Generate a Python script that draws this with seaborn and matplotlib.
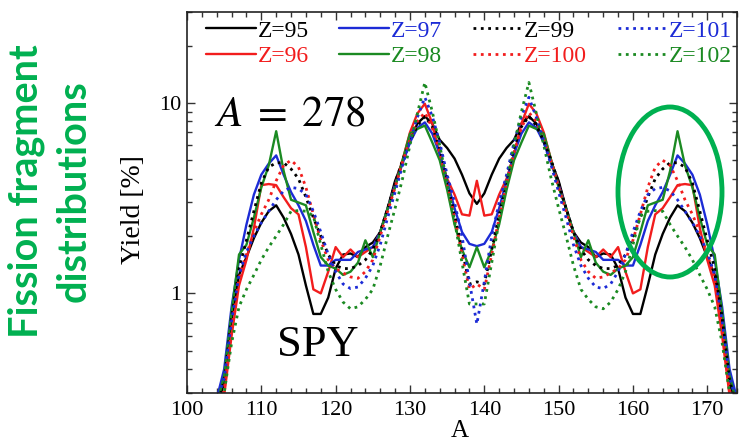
import matplotlib
matplotlib.use("Agg")
import numpy as np
import pandas as pd
import matplotlib.pyplot as plt
import seaborn as sns
from matplotlib.patches import Ellipse
from matplotlib.ticker import FixedLocator, FixedFormatter, MultipleLocator, NullFormatter

# ---------------- data ----------------
mass_A = list(range(104, 175))

z95 = [0.25, 0.34, 0.72, 1.25, 1.55, 1.95, 2.35, 2.7, 2.9, 2.5, 2.05, 1.6, 1.1, 0.78, 0.78, 0.95, 1.35, 1.6,
       1.62, 1.55, 1.75, 1.85, 2.1, 2.8, 3.9, 4.9, 6.3, 7.8, 8.5, 7.8, 6.4, 5.8, 5.1, 4.2, 3.35, 2.95,
       3.35, 4.2, 5.1, 5.8, 6.4, 7.8, 8.5, 7.8, 6.3, 4.9, 3.9, 2.8, 2.1, 1.85, 1.75, 1.55, 1.62, 1.6,
       1.35, 0.95, 0.78, 0.78, 1.1, 1.6, 2.05, 2.5, 2.9, 2.7, 2.35, 1.95, 1.55, 1.25, 0.72, 0.34, 0.25]
z96 = [0.22, 0.29, 0.6, 1.1, 1.5, 2.2, 3.7, 3.75, 3.7, 3.2, 2.8, 2.6, 1.75, 1.05, 1.0, 1.3, 1.75, 1.55,
       1.7, 1.55, 1.65, 1.75, 2.1, 2.8, 3.7, 5.0, 7.0, 8.8, 9.9, 7.8, 5.3, 4.0, 3.3, 2.6, 2.56, 3.9,
       2.56, 2.6, 3.3, 4.0, 5.3, 7.8, 9.9, 8.8, 7.0, 5.0, 3.7, 2.8, 2.1, 1.75, 1.65, 1.55, 1.7, 1.55,
       1.75, 1.3, 1.0, 1.05, 1.75, 2.6, 2.8, 3.2, 3.7, 3.75, 3.7, 2.2, 1.5, 1.1, 0.6, 0.29, 0.22]
z97 = [0.28, 0.4, 0.85, 1.5, 2.3, 3.3, 4.2, 4.8, 5.3, 4.2, 3.4, 2.9, 2.4, 1.8, 1.4, 1.4, 1.5, 1.5,
       1.5, 1.65, 1.7, 1.75, 2.1, 2.8, 3.7, 4.8, 6.2, 7.4, 7.9, 6.9, 5.4, 3.9, 2.8, 2.1, 1.82, 1.77,
       1.82, 2.1, 2.8, 3.9, 5.4, 6.9, 7.9, 7.4, 6.2, 4.8, 3.7, 2.8, 2.1, 1.75, 1.7, 1.65, 1.5, 1.5,
       1.5, 1.4, 1.4, 1.8, 2.4, 2.9, 3.4, 4.2, 5.3, 4.8, 4.2, 3.3, 2.3, 1.5, 0.85, 0.4, 0.28]
z98 = [0.26, 0.37, 0.8, 1.6, 1.8, 2.5, 3.6, 4.7, 7.1, 4.4, 3.1, 3.0, 2.9, 2.1, 1.55, 1.4, 1.35, 1.25,
       1.3, 1.45, 1.9, 1.55, 2.1, 2.8, 3.6, 5.0, 6.9, 7.3, 7.6, 6.2, 5.0, 3.5, 2.3, 1.7, 1.37, 1.75,
       1.37, 1.7, 2.3, 3.5, 5.0, 6.2, 7.6, 7.3, 6.9, 5.0, 3.6, 2.8, 2.1, 1.55, 1.9, 1.45, 1.3, 1.25,
       1.35, 1.4, 1.55, 2.1, 2.9, 3.0, 3.1, 4.4, 7.1, 4.7, 3.6, 2.5, 1.8, 1.6, 0.8, 0.37, 0.26]
z99 = [0.25, 0.35, 0.75, 1.35, 1.9, 2.7, 3.8, 4.6, 4.85, 4.85, 4.5, 4.0, 3.2, 2.5, 2.0, 1.6, 1.4, 1.35,
       1.35, 1.4, 1.5, 1.7, 2.1, 2.8, 3.8, 5.0, 6.3, 7.6, 8.5, 7.5, 5.8, 4.0, 2.6, 1.7, 1.12, 1.15,
       1.12, 1.7, 2.6, 4.0, 5.8, 7.5, 8.5, 7.6, 6.3, 5.0, 3.8, 2.8, 2.1, 1.7, 1.5, 1.4, 1.35, 1.35,
       1.4, 1.6, 2.0, 2.5, 3.2, 4.0, 4.5, 4.85, 4.85, 4.6, 3.8, 2.7, 1.9, 1.35, 0.75, 0.35, 0.25]
z100 = [0.23, 0.31, 0.65, 1.2, 1.6, 2.1, 2.6, 3.1, 3.9, 4.7, 5.0, 4.6, 3.6, 2.6, 1.9, 1.5, 1.35, 1.28,
        1.22, 1.2, 1.3, 1.5, 2.0, 2.7, 3.6, 4.9, 6.4, 8.0, 8.9, 7.4, 5.5, 3.8, 2.5, 1.6, 1.05, 1.12,
        1.05, 1.6, 2.5, 3.8, 5.5, 7.4, 8.9, 8.0, 6.4, 4.9, 3.6, 2.7, 2.0, 1.5, 1.3, 1.2, 1.22, 1.28,
        1.35, 1.5, 1.9, 2.6, 3.6, 4.6, 5.0, 4.7, 3.9, 3.1, 2.6, 2.1, 1.6, 1.2, 0.65, 0.31, 0.23]
z101 = [0.27, 0.36, 0.72, 1.25, 1.65, 2.0, 2.35, 2.7, 3.1, 3.45, 3.6, 3.55, 3.3, 2.7, 2.1, 1.6, 1.3, 1.12,
        1.06, 1.08, 1.2, 1.4, 1.8, 2.5, 3.4, 4.7, 6.3, 8.4, 10.7, 8.5, 6.2, 4.2, 3.0, 2.0, 1.15, 0.69,
        1.15, 2.0, 3.0, 4.2, 6.2, 8.5, 10.7, 8.4, 6.3, 4.7, 3.4, 2.5, 1.8, 1.4, 1.2, 1.08, 1.06, 1.12,
        1.3, 1.6, 2.1, 2.7, 3.3, 3.55, 3.6, 3.45, 3.1, 2.7, 2.35, 2.0, 1.65, 1.25, 0.72, 0.36, 0.27]
z102 = [0.24, 0.3, 0.55, 0.85, 1.05, 1.25, 1.5, 1.75, 2.0, 2.3, 2.7, 2.72, 2.7, 2.55, 1.8, 1.3, 1.05, 0.9,
        0.83, 0.85, 0.93, 1.05, 1.4, 2.0, 2.8, 4.0, 6.0, 8.8, 12.8, 9.0, 6.0, 3.8, 2.4, 1.45, 0.88, 0.88,
        0.88, 1.45, 2.4, 3.8, 6.0, 9.0, 12.8, 8.8, 6.0, 4.0, 2.8, 2.0, 1.4, 1.05, 0.93, 0.85, 0.83, 0.9,
        1.05, 1.3, 1.8, 2.55, 2.7, 2.72, 2.7, 2.3, 2.0, 1.75, 1.5, 1.25, 1.05, 0.85, 0.55, 0.3, 0.24]

series_labels = ["Z=95", "Z=96", "Z=97", "Z=98", "Z=99", "Z=100", "Z=101", "Z=102"]
series_values = [z95, z96, z97, z98, z99, z100, z101, z102]
x_ticks = [100, 110, 120, 130, 140, 150, 160, 170]
y_ticks = [1, 10]
y_tick_labels = ["1", "10"]

# ---------------- style ----------------
BLACK, RED, BLUE, GREEN = "#000000", "#f21d1d", "#1c2bd6", "#1b8a22"
colors = [BLACK, RED, BLUE, GREEN, BLACK, RED, BLUE, GREEN]
styles = ["-", "-", "-", "-", ":", ":", ":", ":"]

sns.set_style("ticks")
plt.rcParams["font.family"] = ["Liberation Serif", "DejaVu Serif"]
plt.rcParams["mathtext.fontset"] = "stix"
for k in ["text.color", "axes.labelcolor", "xtick.color", "ytick.color", "axes.edgecolor"]:
    plt.rcParams[k] = "black"

fig = plt.figure(figsize=(7.4, 4.44), dpi=100)
L, R, B, T = 187, 737, 393, 12
ax = fig.add_axes([L / 740, 1 - B / 444, (R - L) / 740, (B - T) / 444])

records = []
for lab, vals in zip(series_labels, series_values):
    for a, v in zip(mass_A, vals):
        records.append({"A": a, "Yield": v, "Z": lab})
df = pd.DataFrame(records)

for lab, c, ls in zip(series_labels, colors, styles):
    sub = df[df["Z"] == lab]
    lw = 1.7 if ls == "-" else 2.0
    sns.lineplot(data=sub, x="A", y="Yield", ax=ax, color=c, linestyle=ls,
                 linewidth=lw, label=lab, estimator=None, sort=False)

ax.set_yscale("log")
ax.set_xlim(100, 174)
ax.set_ylim(0.3, 30)

ax.xaxis.set_major_locator(FixedLocator(x_ticks))
ax.xaxis.set_minor_locator(MultipleLocator(2))
ax.yaxis.set_major_locator(FixedLocator(y_ticks))
ax.yaxis.set_major_formatter(FixedFormatter(y_tick_labels))
ax.yaxis.set_minor_locator(FixedLocator([0.3, 0.4, 0.5, 0.6, 0.7, 0.8, 0.9,
                                         2, 3, 4, 5, 6, 7, 8, 9, 20, 30]))
ax.yaxis.set_minor_formatter(NullFormatter())
ax.tick_params(which="both", direction="in", top=True, right=True, width=1.0, color="#333333")
ax.tick_params(which="major", length=6, labelsize=16)
ax.tick_params(which="minor", length=3.5)
ax.tick_params(axis="x", which="major", pad=6)
ax.tick_params(axis="y", which="major", pad=4)
for sp in ax.spines.values():
    sp.set_linewidth(1.2)
    sp.set_color("#222222")

ax.set_xlabel("A", fontsize=18)
ax.xaxis.set_label_coords((460 - L) / (R - L), (B - 420) / (B - T))
ax.set_ylabel("Yield [%]", fontsize=20)
ax.yaxis.set_label_coords((146 - L) / (R - L), (B - 210) / (B - T))

leg = ax.legend(ncol=4, loc="upper left", frameon=False, fontsize=17,
                bbox_to_anchor=((206 - L) / (R - L), (B - 20) / (B - T)),
                borderaxespad=0, borderpad=0, handlelength=2.1, handletextpad=0.08,
                columnspacing=1.3, labelspacing=0.16, labelcolor="linecolor")

fig.text(214 / 740, 1 - 125 / 444, r"$A\;=\;278$", fontsize=31, ha="left", va="baseline")
fig.text(318 / 740, 1 - 345 / 444, "SPY", fontsize=32, ha="center", va="center")

fig.text(50 / 740, 1 - 191 / 444, "Fission fragment\ndistributions", rotation=90,
         ha="center", va="center", multialignment="center", fontsize=28.5,
         fontweight="bold", color="#00B050", family=["Lato", "DejaVu Sans"], linespacing=1.38)

ell = Ellipse((670 / 740, 1 - 192 / 444), 104 / 740, 170 / 444, transform=fig.transFigure,
              fill=False, edgecolor="#00B050", linewidth=3.5)
fig.add_artist(ell)

fig.savefig("out.png", dpi=100)
